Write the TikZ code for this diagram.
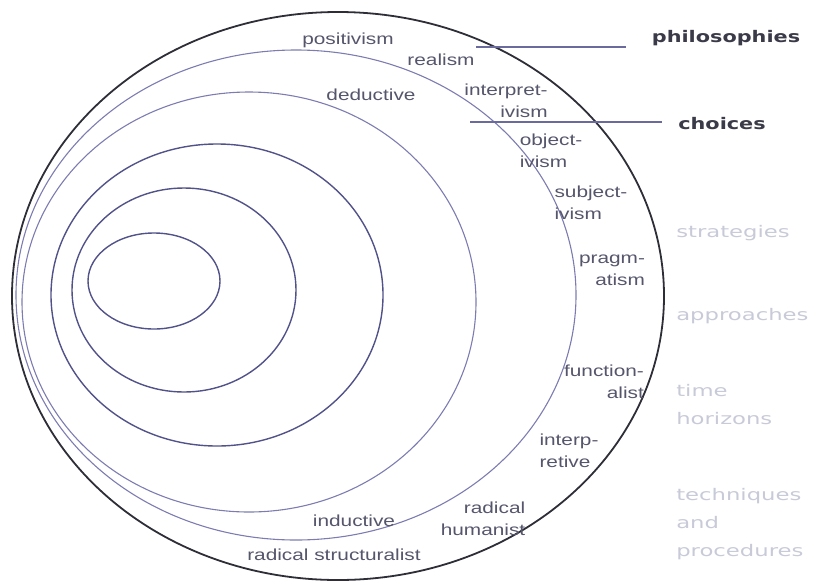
\documentclass[tikz,border=0pt]{standalone}
\usepackage{fontspec}
\usepackage{xcolor}
\usetikzlibrary{calc}

\newfontfamily\lblfont{Liberation Sans}
\newfontfamily\headfont{DejaVu Sans}

\definecolor{ringdark}{HTML}{2E2E38}
\definecolor{ringblue}{HTML}{7C7CB2}
\definecolor{ringslate}{HTML}{52528A}
\definecolor{labelgray}{HTML}{55556C}
\definecolor{headgray}{HTML}{3A3A48}
\definecolor{fadegray}{HTML}{C8CAD8}
\definecolor{pointerblue}{HTML}{6A6A9C}

\begin{document}
\begin{tikzpicture}[
    x=1pt, y=-1pt,
    outer ring/.style={draw=ringdark, line width=1.8pt},
    thin ring/.style={draw=ringblue, line width=1.1pt},
    inner ring/.style={draw=ringslate, line width=1.4pt},
    ring label/.style={font=\lblfont\fontsize{16}{22}\selectfont, text=labelgray, xscale=1.3, inner sep=0pt},
    head label/.style={font=\headfont\bfseries\fontsize{16}{20}\selectfont, text=headgray, xscale=1.3, inner sep=0pt},
    faded label/.style={font=\headfont\fontsize{16}{28}\selectfont, text=fadegray, xscale=1.42, align=left, anchor=west, inner sep=0pt},
    pointer/.style={draw=pointerblue, line width=1.2pt}
]
    \useasboundingbox (0,0) rectangle (818,584);

    % Rings
    \draw[outer ring] (338,296) ellipse [x radius=326, y radius=284];
    \draw[thin ring] (296,295) ellipse [x radius=280, y radius=245];
    \draw[thin ring] (249,302) ellipse [x radius=227, y radius=210];
    \draw[inner ring] (217,295) ellipse [x radius=166, y radius=151];
    \draw[inner ring] (184,290) ellipse [x radius=112, y radius=102];
    \draw[inner ring] (154,281) ellipse [x radius=66, y radius=48];

    % Ring labels
    \node[ring label] (positivism) at (348,40) {positivism};
    \node[ring label] (realism) at (441,60) {realism};
    \node[ring label] (deductive) at (371,95) {deductive};
    \node[ring label, align=right] (interpretivism) at (506,101) {interpret-\\ivism};
    \node[ring label, align=left] (objectivism) at (551,151) {object-\\ivism};
    \node[ring label, align=left] (subjectivism) at (591,203) {subject-\\ivism};
    \node[ring label, align=right] (pragmatism) at (612,270) {pragm-\\atism};
    \node[ring label, align=right] (functionalist) at (604,382) {function-\\alist};
    \node[ring label, align=left] (interpretive) at (569,451) {interp-\\retive};
    \node[ring label, align=right] (humanist) at (483,519) {radical\\humanist};
    \node[ring label] (inductive) at (354,521) {inductive};
    \node[ring label] (structuralist) at (334,555) {radical structuralist};

    % Layer names
    \node[head label] (philosophies) at (726,38) {philosophies};
    \node[head label] (choices) at (722,124) {choices};
    \node[faded label] (strategies) at (676,233) {strategies};
    \node[faded label] (approaches) at (676,316) {approaches};
    \node[faded label] (horizons) at (676,405) {time\\horizons};
    \node[faded label] (procedures) at (676,524) {techniques\\and\\procedures};

    % Pointers
    \coordinate (philo tip) at (476,47);
    \coordinate (choice tip) at (470,122);
    \draw[pointer, shorten >=26pt] (philo tip) -- (philo tip -| philosophies.west);
    \draw[pointer, shorten >=16pt] (choice tip) -- (choice tip -| choices.west);
\end{tikzpicture}
\end{document}
